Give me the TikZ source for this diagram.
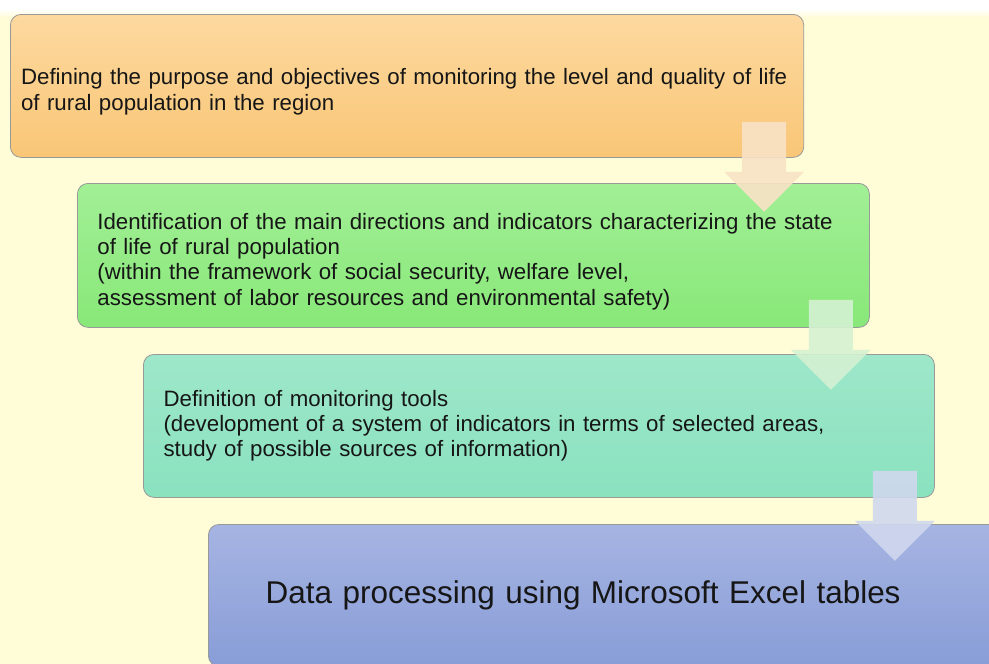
\documentclass[tikz,border=0pt]{standalone}
\usepackage{fontspec}
\setmainfont{Liberation Sans}
\usetikzlibrary{calc}

\definecolor{pagecream}{HTML}{FFFCD8}
\definecolor{orangetop}{HTML}{FDD9A0}
\definecolor{orangebot}{HTML}{F9C676}
\definecolor{greentop}{HTML}{A2EF96}
\definecolor{greenbot}{HTML}{88E878}
\definecolor{tealtop}{HTML}{9EE7CA}
\definecolor{tealbot}{HTML}{8AE2BF}
\definecolor{bluetop}{HTML}{A6B4E2}
\definecolor{bluebot}{HTML}{889DD7}
\definecolor{arroworange}{HTML}{F8E2C6}
\definecolor{arrowgreen}{HTML}{D4F1D2}
\definecolor{arrowblue}{HTML}{D0D8EE}
\definecolor{inktext}{HTML}{161616}

\newcommand{\stagefont}{\fontsize{16.7pt}{19pt}\selectfont}
\newcommand{\finalfont}{\fontsize{23.6pt}{28pt}\selectfont}
% taller first line, pushes a text block down a little
\newcommand{\lowerstrut}{\rule{0pt}{21pt}}

% wide block arrow pointing down, tip at #1
\newcommand{\flowarrow}[2]{%
  \fill[#2, opacity=.9, shift={(#1)}] (-22,-90) -- (22,-90) -- (22,-40) -- (40,-40)
    -- (0,0) -- (-40,-40) -- (-22,-40) -- cycle;}

\tikzset{
  stagebox/.style 2 args={draw=#2, line width=.6pt, rounded corners=8pt,
    top color=#1top, bottom color=#1bot, anchor=north west, align=left,
    text=inktext, font=\stagefont, inner ysep=6pt},
}

\begin{document}
\begin{tikzpicture}[x=.75pt, y=-.75pt]
\useasboundingbox (0,0) rectangle (989,664);
\clip (0,0) rectangle (989,664);
% page
\fill[pagecream] (0,0) rectangle (989,664);
\fill[white] (0,0) rectangle (989,9);
\shade[top color=white, bottom color=pagecream] (0,9) rectangle (989,17);

% stages
\node[stagebox={orange}{black!40}, minimum width=594.75pt, minimum height=107.25pt,
  text width=579pt, inner xsep=8pt] (b1) at (10,14)
  {\lowerstrut Defining the purpose and objectives of monitoring the level and quality of life\\
   of rural population in the region};
\node[stagebox={green}{black!40}, minimum width=594pt, minimum height=108pt,
  text width=564pt, inner xsep=15pt] (b2) at (77,183)
  {\lowerstrut Identification of the main directions and indicators characterizing the state\\
   of life of rural population\\
   (within the framework of social security, welfare level,\\
   assessment of labor resources and environmental safety)};
\node[stagebox={teal}{black!40}, minimum width=593.25pt, minimum height=107.25pt,
  text width=563pt, inner xsep=15pt] (b3) at (143,354)
  {Definition of monitoring tools\\
   (development of a system of indicators in terms of selected areas,\\
   study of possible sources of information)};
\node[stagebox={blue}{black!40}, minimum width=600pt, minimum height=106.5pt,
  text width=514pt, inner xsep=42.75pt, font=\finalfont] (b4) at (208,524)
  {Data processing using Microsoft Excel tables};

% arrows between stages
\coordinate (t1) at ($(b1.south east)+(-40,54)$);
\coordinate (t2) at ($(b2.south east)+(-39,62)$);
\coordinate (t3) at ($(b3.south east)+(-40,63)$);
\flowarrow{t1}{arroworange}
\flowarrow{t2}{arrowgreen}
\flowarrow{t3}{arrowblue}
\end{tikzpicture}
\end{document}
